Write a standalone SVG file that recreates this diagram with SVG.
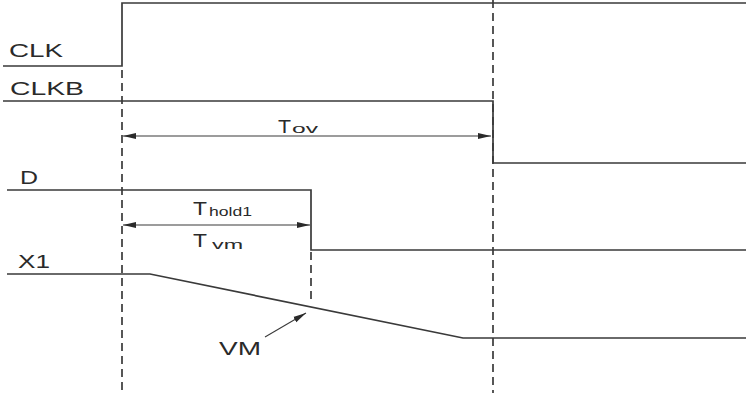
<svg xmlns="http://www.w3.org/2000/svg" width="749" height="393" viewBox="0 0 749 393">
<defs>
<style>
.sig{fill:none;stroke:#3a3a3a;stroke-width:1.7}
.dash{fill:none;stroke:#3a3a3a;stroke-width:1.7;stroke-dasharray:8 5}
.dim{fill:none;stroke:#3a3a3a;stroke-width:1.1}
.lbl{font-family:"Liberation Sans",Arial,sans-serif;font-size:18px;fill:#2a2a2a}
.big{font-size:18px}
.sub{font-size:12px}
</style>
<marker id="ah" markerWidth="13" markerHeight="8" refX="13" refY="4" orient="auto-start-reverse" markerUnits="userSpaceOnUse">
<path d="M0,1 L13,4 L0,7 Z" fill="#2a2a2a"/>
</marker>
</defs>
<rect width="749" height="393" fill="#fff"/>
<g id="guides">
<line class="dash" x1="122" y1="70" x2="122" y2="393"/>
<line class="dash" x1="493" y1="0" x2="493" y2="393"/>
<line class="dash" x1="311" y1="252" x2="311" y2="303"/>
</g>
<g id="CLK">
<polyline class="sig" points="3,66 122,66 122,3 746,3"/>
<text class="lbl" x="9" y="57" textLength="54" lengthAdjust="spacingAndGlyphs">CLK</text>
</g>
<g id="CLKB">
<polyline class="sig" points="3,101 493,101 493,163 746,163"/>
<text class="lbl" x="10" y="95" textLength="74" lengthAdjust="spacingAndGlyphs">CLKB</text>
</g>
<g id="D">
<polyline class="sig" points="7,190 311,190 311,250 746,250"/>
<text class="lbl" x="20" y="184" textLength="18" lengthAdjust="spacingAndGlyphs">D</text>
</g>
<g id="X1">
<polyline class="sig" points="7,274 150,274 463,338 746,338"/>
<text class="lbl" x="18" y="268" textLength="32" lengthAdjust="spacingAndGlyphs">X1</text>
</g>
<g id="connectors">
<line class="dim" x1="123" y1="136" x2="491" y2="136" marker-start="url(#ah)" marker-end="url(#ah)"/>
<line class="dim" x1="123" y1="225" x2="310" y2="225" marker-start="url(#ah)" marker-end="url(#ah)"/>
<line class="dim" x1="265" y1="337" x2="306" y2="313" marker-end="url(#ah)"/>
</g>
<g id="labels">
<text class="lbl big" x="278" y="133" textLength="13" lengthAdjust="spacingAndGlyphs">T</text>
<text class="lbl sub" x="292" y="133" textLength="26" lengthAdjust="spacingAndGlyphs">ov</text>
<text class="lbl big" x="193" y="215" textLength="14" lengthAdjust="spacingAndGlyphs">T</text>
<text class="lbl sub" x="209" y="216" textLength="43" lengthAdjust="spacingAndGlyphs">hold1</text>
<text class="lbl big" x="193" y="247" textLength="14" lengthAdjust="spacingAndGlyphs">T</text>
<text class="lbl sub" x="212" y="249" textLength="31" lengthAdjust="spacingAndGlyphs">vm</text>
<text class="lbl" x="219" y="355" textLength="42" lengthAdjust="spacingAndGlyphs">VM</text>
</g>
</svg>
